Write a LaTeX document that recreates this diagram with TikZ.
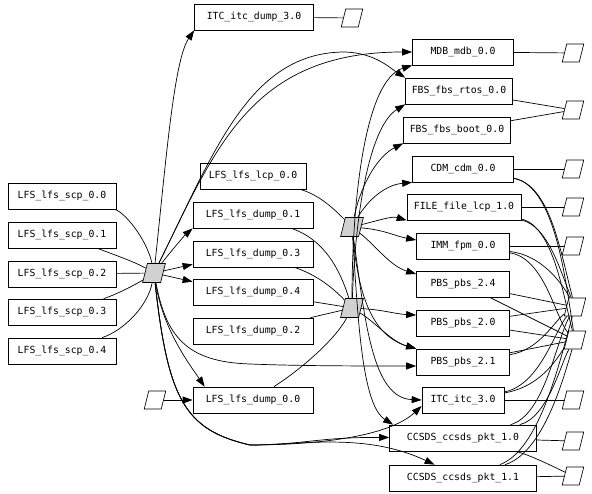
\documentclass[tikz,border=0pt]{standalone}
\usepackage{fontspec}
\setmonofont{DejaVu Sans Mono}
\usetikzlibrary{arrows.meta}

\begin{document}
\begin{tikzpicture}[x=1pt, y=-1pt, line width=0.7pt,
    box/.style={draw, rectangle, minimum height=26pt, inner sep=0pt,
        font=\ttfamily\fontsize{9.8}{11}\selectfont},
    para/.style={draw, rectangle, xslant=0.25, transform shape,
        minimum width=17pt, minimum height=18pt, inner sep=0pt},
    hub/.style={para, fill=black!18, minimum width=18pt, minimum height=19pt},
    dep/.style={-{Triangle[length=10pt,width=7pt]}}]
    \useasboundingbox (0,0) rectangle (592,494);

    % Sorgenti a sinistra
    \node[box, minimum width=108pt] (scpA) at (62,196) {LFS\_lfs\_scp\_0.0};
    \node[box, minimum width=108pt] (scpB) at (62,235) {LFS\_lfs\_scp\_0.1};
    \node[box, minimum width=108pt] (scpC) at (62,274) {LFS\_lfs\_scp\_0.2};
    \node[box, minimum width=108pt] (scpD) at (62,312) {LFS\_lfs\_scp\_0.3};
    \node[box, minimum width=108pt] (scpE) at (62,351) {LFS\_lfs\_scp\_0.4};

    % Colonna centrale
    \node[box, minimum width=119pt] (itcdump) at (254,17) {ITC\_itc\_dump\_3.0};
    \node[box, minimum width=106pt] (lcp) at (253,176) {LFS\_lfs\_lcp\_0.0};
    \node[box, minimum width=120pt] (dumpB) at (253,215) {LFS\_lfs\_dump\_0.1};
    \node[box, minimum width=120pt] (dumpD) at (253,254) {LFS\_lfs\_dump\_0.3};
    \node[box, minimum width=120pt] (dumpE) at (253,292) {LFS\_lfs\_dump\_0.4};
    \node[box, minimum width=120pt] (dumpC) at (253,331) {LFS\_lfs\_dump\_0.2};
    \node[box, minimum width=120pt] (dumpA) at (253,400) {LFS\_lfs\_dump\_0.0};

    % Colonna destra
    \node[box, minimum width=101pt] (mdb) at (463,52) {MDB\_mdb\_0.0};
    \node[box, minimum width=107pt] (rtos) at (459,91) {FBS\_fbs\_rtos\_0.0};
    \node[box, minimum width=107pt] (boot) at (457,130) {FBS\_fbs\_boot\_0.0};
    \node[box, minimum width=101pt] (cdm) at (463,169) {CDM\_cdm\_0.0};
    \node[box, minimum width=114pt] (file) at (464,207) {FILE\_file\_lcp\_1.0};
    \node[box, minimum width=93pt] (imm) at (463,246) {IMM\_fpm\_0.0};
    \node[box, minimum width=93pt] (pbsD) at (463,284) {PBS\_pbs\_2.4};
    \node[box, minimum width=93pt] (pbsA) at (463,323) {PBS\_pbs\_2.0};
    \node[box, minimum width=93pt] (pbsB) at (463,362) {PBS\_pbs\_2.1};
    \node[box, minimum width=82pt] (itc) at (463,400) {ITC\_itc\_3.0};
    \node[box, minimum width=147pt] (ccA) at (463,438) {CCSDS\_ccsds\_pkt\_1.0};
    \node[box, minimum width=147pt] (ccB) at (463,478) {CCSDS\_ccsds\_pkt\_1.1};

    % Nodi di raccordo
    \node[hub] (hubL) at (154,273) {};
    \node[hub] (hubU) at (352,227) {};
    \node[hub] (hubD) at (352,308) {};

    \node[para] (wdump) at (155,400) {};
    \node[para] (witcd) at (352,18) {};
    \node[para] (wmdb) at (573,53) {};
    \node[para] (wfbs) at (573,110) {};
    \node[para] (wcdm) at (573,169) {};
    \node[para] (wfile) at (573,207) {};
    \node[para] (wimm) at (573,246) {};
    \node[para] (wX) at (575,307) {};
    \node[para] (wY) at (575,340) {};
    \node[para] (witc) at (573,400) {};
    \node[para] (wccA) at (573,441) {};
    \node[para] (wccB) at (573,476) {};

    % Ingressi del primo raccordo
    \draw (scpA) .. controls (125,212) and (147,240) .. (hubL);
    \draw (scpB) .. controls (115,255) and (135,262) .. (hubL);
    \draw (scpC) -- (hubL);
    \draw (scpD) .. controls (115,295) and (135,285) .. (hubL);
    \draw (scpE) .. controls (125,330) and (148,305) .. (hubL);

    % Uscite del primo raccordo
    \draw[dep] (hubL) .. controls (166,160) and (174,60) .. (itcdump.south west);
    \draw[dep] (hubL) .. controls (215,150) and (250,52) .. (mdb);
    \draw[dep] (hubL) .. controls (215,150) and (250,52) .. (345,52)
        .. controls (375,53) and (390,68) .. (rtos.north west);
    \draw[dep] (hubL) .. controls (172,250) and (185,235) .. (dumpB.south west);
    \draw[dep] (hubL) -- ([yshift=3pt]dumpD.south west);
    \draw[dep] (hubL) -- ([yshift=-3pt]dumpE.north west);
    \draw[dep] (hubL) .. controls (163,330) and (190,365) .. ([xshift=12pt]dumpA.north west);
    \draw[dep] (hubL) .. controls (166,335) and (185,362) .. (250,364)
        .. controls (300,366) and (360,366) .. ([yshift=-4pt]pbsB.west);
    \draw[dep] (hubL) .. controls (168,400) and (185,430) .. (250,445)
        .. controls (300,445) and (320,437) .. (ccA);
    \draw[dep] (hubL) .. controls (168,400) and (185,430) .. (250,445)
        .. controls (300,445) and (365,432) .. (ccB);
    \draw[dep] (hubL) .. controls (168,400) and (185,430) .. (250,445)
        .. controls (300,445) and (385,440) .. ([yshift=-6pt]itc.west);
    \draw[dep] (wdump) -- (dumpA);

    % Ingressi dei raccordi centrali
    \draw (lcp) .. controls (320,195) and (335,210) .. (hubU);
    \draw (dumpB) .. controls (325,240) and (340,270) .. (hubD);
    \draw (dumpD) .. controls (318,275) and (335,290) .. (hubD);
    \draw (dumpE) -- (hubD);
    \draw (dumpC) -- (hubD);
    \draw (dumpA) .. controls (300,370) and (335,340) .. (hubD);

    % Uscite del raccordo superiore
    \draw[dep] (hubU) .. controls (362,180) and (380,155) .. (boot.south west);
    \draw[dep] (hubU) .. controls (368,200) and (385,185) .. (cdm.south west);
    \draw[dep] (hubU) .. controls (380,220) and (392,216) .. (file.south west);
    \draw[dep] (hubU) .. controls (385,230) and (395,236) .. ([yshift=6pt]imm.west);
    \draw[dep] (hubU) .. controls (375,245) and (390,266) .. ([yshift=10pt]pbsD.west);
    \draw[dep] (hubU) .. controls (358,290) and (370,335) .. (pbsB.north west);
    \draw[dep] (hubU) .. controls (365,320) and (372,398) .. (itc.west);
    \draw[dep] (hubU) .. controls (358,320) and (362,405) .. ([xshift=4pt]ccA.north west);

    % Uscite del raccordo inferiore
    \draw[dep] (hubD) .. controls (352,200) and (365,80) .. (mdb.south west);
    \draw[dep] (hubD) .. controls (356,200) and (372,125) .. (rtos.south west);
    \draw[dep] (hubD) .. controls (385,310) and (395,314) .. ([yshift=8pt]pbsA.west);
    \draw[dep] (hubD) .. controls (375,322) and (392,342) .. (pbsB.north west);

    % Collegamenti ai terminali
    \draw (itcdump) -- (witcd);
    \draw (mdb) -- (wmdb);
    \draw (rtos) -- (wfbs);
    \draw (boot) -- (wfbs);
    \draw (cdm) -- (wcdm);
    \draw (file) -- (wfile);
    \draw (imm) -- (wimm);
    \draw (itc) -- (witc);
    \draw (ccA) -- (wccA);
    \draw (ccB) -- (wccB);

    % Terminali condivisi
    \draw (cdm) .. controls (550,185) and (560,250) .. (wX);
    \draw (cdm) .. controls (556,186) and (566,285) .. (wY);
    \draw (file) .. controls (548,226) and (560,270) .. (wX);
    \draw (file) .. controls (554,226) and (564,300) .. (wY);
    \draw (imm) .. controls (540,255) and (560,280) .. (wX);
    \draw (imm) .. controls (545,258) and (556,320) .. (wY);
    \draw (pbsD) -- (wX);
    \draw (pbsD) -- (wY);
    \draw (pbsA) -- (wX);
    \draw (pbsA) -- (wY);
    \draw (pbsB) .. controls (540,350) and (555,320) .. (wX);
    \draw (pbsB) -- (wY);
    \draw (itc) .. controls (540,385) and (555,330) .. (wX);
    \draw (itc) .. controls (545,386) and (560,352) .. (wY);
    \draw (ccA) .. controls (545,415) and (556,340) .. (wX);
    \draw (ccA) .. controls (548,418) and (562,360) .. (wY);
    \draw (ccA) .. controls (530,455) and (550,465) .. (wccB);
    \draw (ccB) .. controls (540,450) and (560,360) .. (wX);
    \draw (ccB) .. controls (545,452) and (565,372) .. (wY);
\end{tikzpicture}
\end{document}
